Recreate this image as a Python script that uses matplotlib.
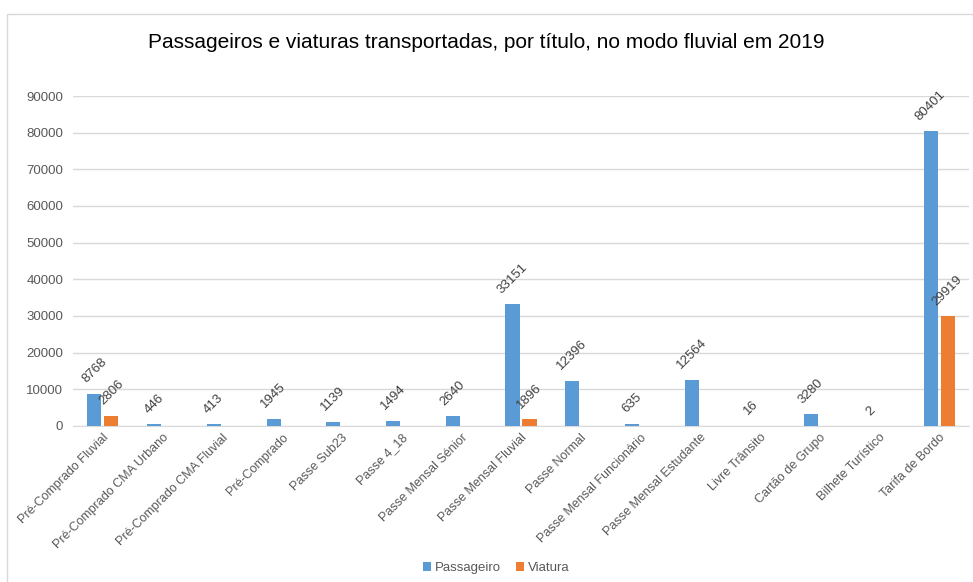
import numpy as np
import matplotlib.pyplot as plt
from matplotlib.patches import Rectangle

categorias = ["Pré-Comprado Fluvial", "Pré-Comprado CMA Urbano", "Pré-Comprado CMA Fluvial",
              "Pré-Comprado", "Passe Sub23", "Passe 4_18", "Passe Mensal Sénior",
              "Passe Mensal Fluvial", "Passe Normal", "Passe Mensal Funcionário",
              "Passe Mensal Estudante", "Livre Trânsito", "Cartão de Grupo",
              "Bilhete Turístico", "Tarifa de Bordo"]
passageiro = [8768, 446, 413, 1945, 1139, 1494, 2640, 33151, 12396, 635, 12564, 16, 3280, 2, 80401]
viatura = [2806, None, None, None, None, None, None, 1896, None, None, None, None, None, None, 29919]

plt.rcParams['font.family'] = ['Liberation Sans', 'DejaVu Sans']

cinza = '#595959'
azul = '#5B9BD5'
laranja = '#ED7D31'

fig = plt.figure(figsize=(9.73, 5.82), dpi=100)
fig.patches.append(Rectangle((7 / 973, -0.1), 1.2, 1.1 - 14 / 582, transform=fig.transFigure,
                             fill=False, edgecolor='#d9d9d9', linewidth=1))
ax = fig.add_axes([73 / 973, 156 / 582, 896 / 973, 330 / 582])

x = np.arange(len(categorias))
w = 0.235
v = np.array([np.nan if a is None else a for a in viatura], dtype=float)
b1 = ax.bar(x - 0.142, passageiro, w, color=azul, label='Passageiro', zorder=3)
b2 = ax.bar(x + 0.142, np.nan_to_num(v), w, color=laranja, label='Viatura', zorder=3)

for rect, val in zip(b1, passageiro):
    ax.annotate(str(val), (rect.get_x() + rect.get_width() / 2, rect.get_height()),
                xytext=(0, 6), textcoords='offset points', rotation=45,
                ha='center', va='bottom', fontsize=9.5, color='#404040')
for rect, val in zip(b2, viatura):
    if val is None:
        continue
    ax.annotate(str(val), (rect.get_x() + rect.get_width() / 2, rect.get_height()),
                xytext=(0, 6), textcoords='offset points', rotation=45,
                ha='center', va='bottom', fontsize=9.5, color='#404040')

ax.set_xlim(-0.5, len(categorias) - 0.5)
ax.set_ylim(0, 90000)
ax.set_yticks(np.arange(0, 90001, 10000))
ax.yaxis.grid(True, color='#d9d9d9', linewidth=1, zorder=0)
ax.set_axisbelow(True)
for s in ['top', 'right', 'left']:
    ax.spines[s].set_visible(False)
ax.spines['bottom'].set_color('#d9d9d9')
ax.tick_params(axis='both', length=0, colors=cinza, labelsize=9.5)
ax.tick_params(axis='y', pad=7)
ax.set_xticks(x)
ax.set_xticklabels(categorias, rotation=45, ha='right', rotation_mode='anchor', fontsize=9)
ax.tick_params(axis='x', pad=4)

fig.text(0.5, 0.927, 'Passageiros e viaturas transportadas, por título, no modo fluvial em 2019',
         ha='center', va='center', fontsize=15, color='black')

leg = fig.legend(loc='center', bbox_to_anchor=(0.51, (582 - 568) / 582), ncol=2,
                 frameon=False, fontsize=9.5, handlelength=0.6, handleheight=0.6,
                 handletextpad=0.3, columnspacing=1.2)
for t in leg.get_texts():
    t.set_color(cinza)

fig.savefig('out.png', dpi=100)
